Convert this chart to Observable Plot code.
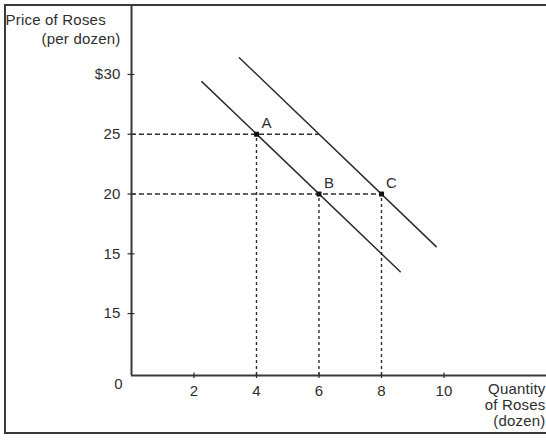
<!DOCTYPE html>
<html>
<head>
<meta charset="utf-8">
<script src="https://cdn.jsdelivr.net/npm/d3@7"></script>
<script src="https://cdn.jsdelivr.net/npm/@observablehq/plot@0.6"></script>
<style>
  html, body { margin: 0; padding: 0; background: #fff; }
  #wrap { position: relative; width: 546px; height: 440px; overflow: hidden; }
  #border { position: absolute; left: 4px; top: 4px; width: 600px; height: 430px; border: 2px solid #3a3a3a; box-sizing: border-box; pointer-events: none; }
  svg { display: block; }
  svg text { letter-spacing: 0.2px; }
</style>
</head>
<body>
<div id="wrap"><div id="border"></div></div>
<script>
// Tick values and labels
const xTicks = [2, 4, 6, 8, 10];
const xTickLabels = ["2", "4", "6", "8", "10"];
const yTicks = [30, 25, 20, 15, 10];
const yTickLabels = ["$30", "25", "20", "15", "15"];

// Demand curves: endpoints (quantity, price)
const curve1Q = [2.25, 8.6];
const curve1P = [29.4, 13.5];
const curve2Q = [3.45, 9.75];
const curve2P = [31.4, 15.6];

// Labelled points
const pointNames = ["A", "B", "C"];
const pointQ = [4, 6, 8];
const pointP = [25, 20, 20];

// Dashed guide lines
const hGuideP = [25, 20];
const hGuideQEnd = [6, 8];

const xDomain = [0, 13.28];
const yDomain = [4.82, 35.77];

const curve1 = curve1Q.map((q, i) => ({q, p: curve1P[i]}));
const curve2 = curve2Q.map((q, i) => ({q, p: curve2P[i]}));
const points = pointNames.map((name, i) => ({name, q: pointQ[i], p: pointP[i]}));
const hGuides = hGuideP.map((p, i) => ({p, q: hGuideQEnd[i]}));
const yBase = yDomain[0];

const ink = "#2e2e2e";
const font = "'Liberation Sans', Arial, sans-serif";

const chart = Plot.plot({
  width: 546,
  height: 440,
  marginLeft: 131,
  marginRight: 0,
  marginTop: 5,
  marginBottom: 65,
  x: {domain: xDomain, axis: null},
  y: {domain: yDomain, axis: null},
  style: {fontFamily: font, fontSize: "15px", color: ink, background: "transparent"},
  marks: [
    // dashed guides
    Plot.ruleY(hGuides, {y: "p", x1: 0, x2: "q", stroke: ink, strokeWidth: 1.4, strokeDasharray: "5,3"}),
    Plot.ruleX(points, {x: "q", y1: yBase, y2: "p", stroke: ink, strokeWidth: 1.4, strokeDasharray: "3,3"}),
    // axes
    Plot.ruleX([0], {y1: yBase, y2: yDomain[1], stroke: "#3a3a3a", strokeWidth: 2}),
    Plot.ruleY([yBase], {x1: 0, x2: xDomain[1], stroke: "#3a3a3a", strokeWidth: 2.2}),
    Plot.ruleY(yTicks, {x1: -0.11, x2: 0.11, stroke: ink, strokeWidth: 1.2}),
    Plot.ruleX(xTicks, {y1: yBase - 0.25, y2: yBase + 0.2, stroke: ink, strokeWidth: 1.2}),
    Plot.text(yTicks, {x: 0, y: d => d, text: (d, i) => yTickLabels[i], textAnchor: "end", dx: -11, fill: ink}),
    Plot.text(xTicks, {x: d => d, y: yBase, text: (d, i) => xTickLabels[i], dy: 16, fill: ink}),
    Plot.text(["0"], {x: 0, y: yBase, text: d => d, dx: -13, dy: 9, fill: ink}),
    // curves
    Plot.line(curve1, {x: "q", y: "p", stroke: ink, strokeWidth: 1.5}),
    Plot.line(curve2, {x: "q", y: "p", stroke: ink, strokeWidth: 1.5}),
    // points
    Plot.dot(points, {x: "q", y: "p", symbol: "square", r: 2.8, fill: "#111", stroke: "none"}),
    Plot.text(points, {x: "q", y: "p", text: "name", dx: 10, dy: -11, fill: ink}),
    // axis titles
    Plot.text(["Price of Roses"], {frameAnchor: "top-left", text: d => d, textAnchor: "start", dx: -126, dy: 9, fill: ink}),
    Plot.text(["(per dozen)"], {frameAnchor: "top-left", text: d => d, textAnchor: "end", dx: -11, dy: 28, fill: ink}),
    Plot.text(["Quantity"], {frameAnchor: "bottom-right", text: d => d, textAnchor: "end", dx: -1, dy: 18, fill: ink}),
    Plot.text(["of Roses"], {frameAnchor: "bottom-right", text: d => d, textAnchor: "end", dx: -1, dy: 34, fill: ink}),
    Plot.text(["(dozen)"], {frameAnchor: "bottom-right", text: d => d, textAnchor: "end", dx: -1, dy: 50, fill: ink})
  ]
});
document.getElementById("wrap").appendChild(chart);
</script>
</body>
</html>
